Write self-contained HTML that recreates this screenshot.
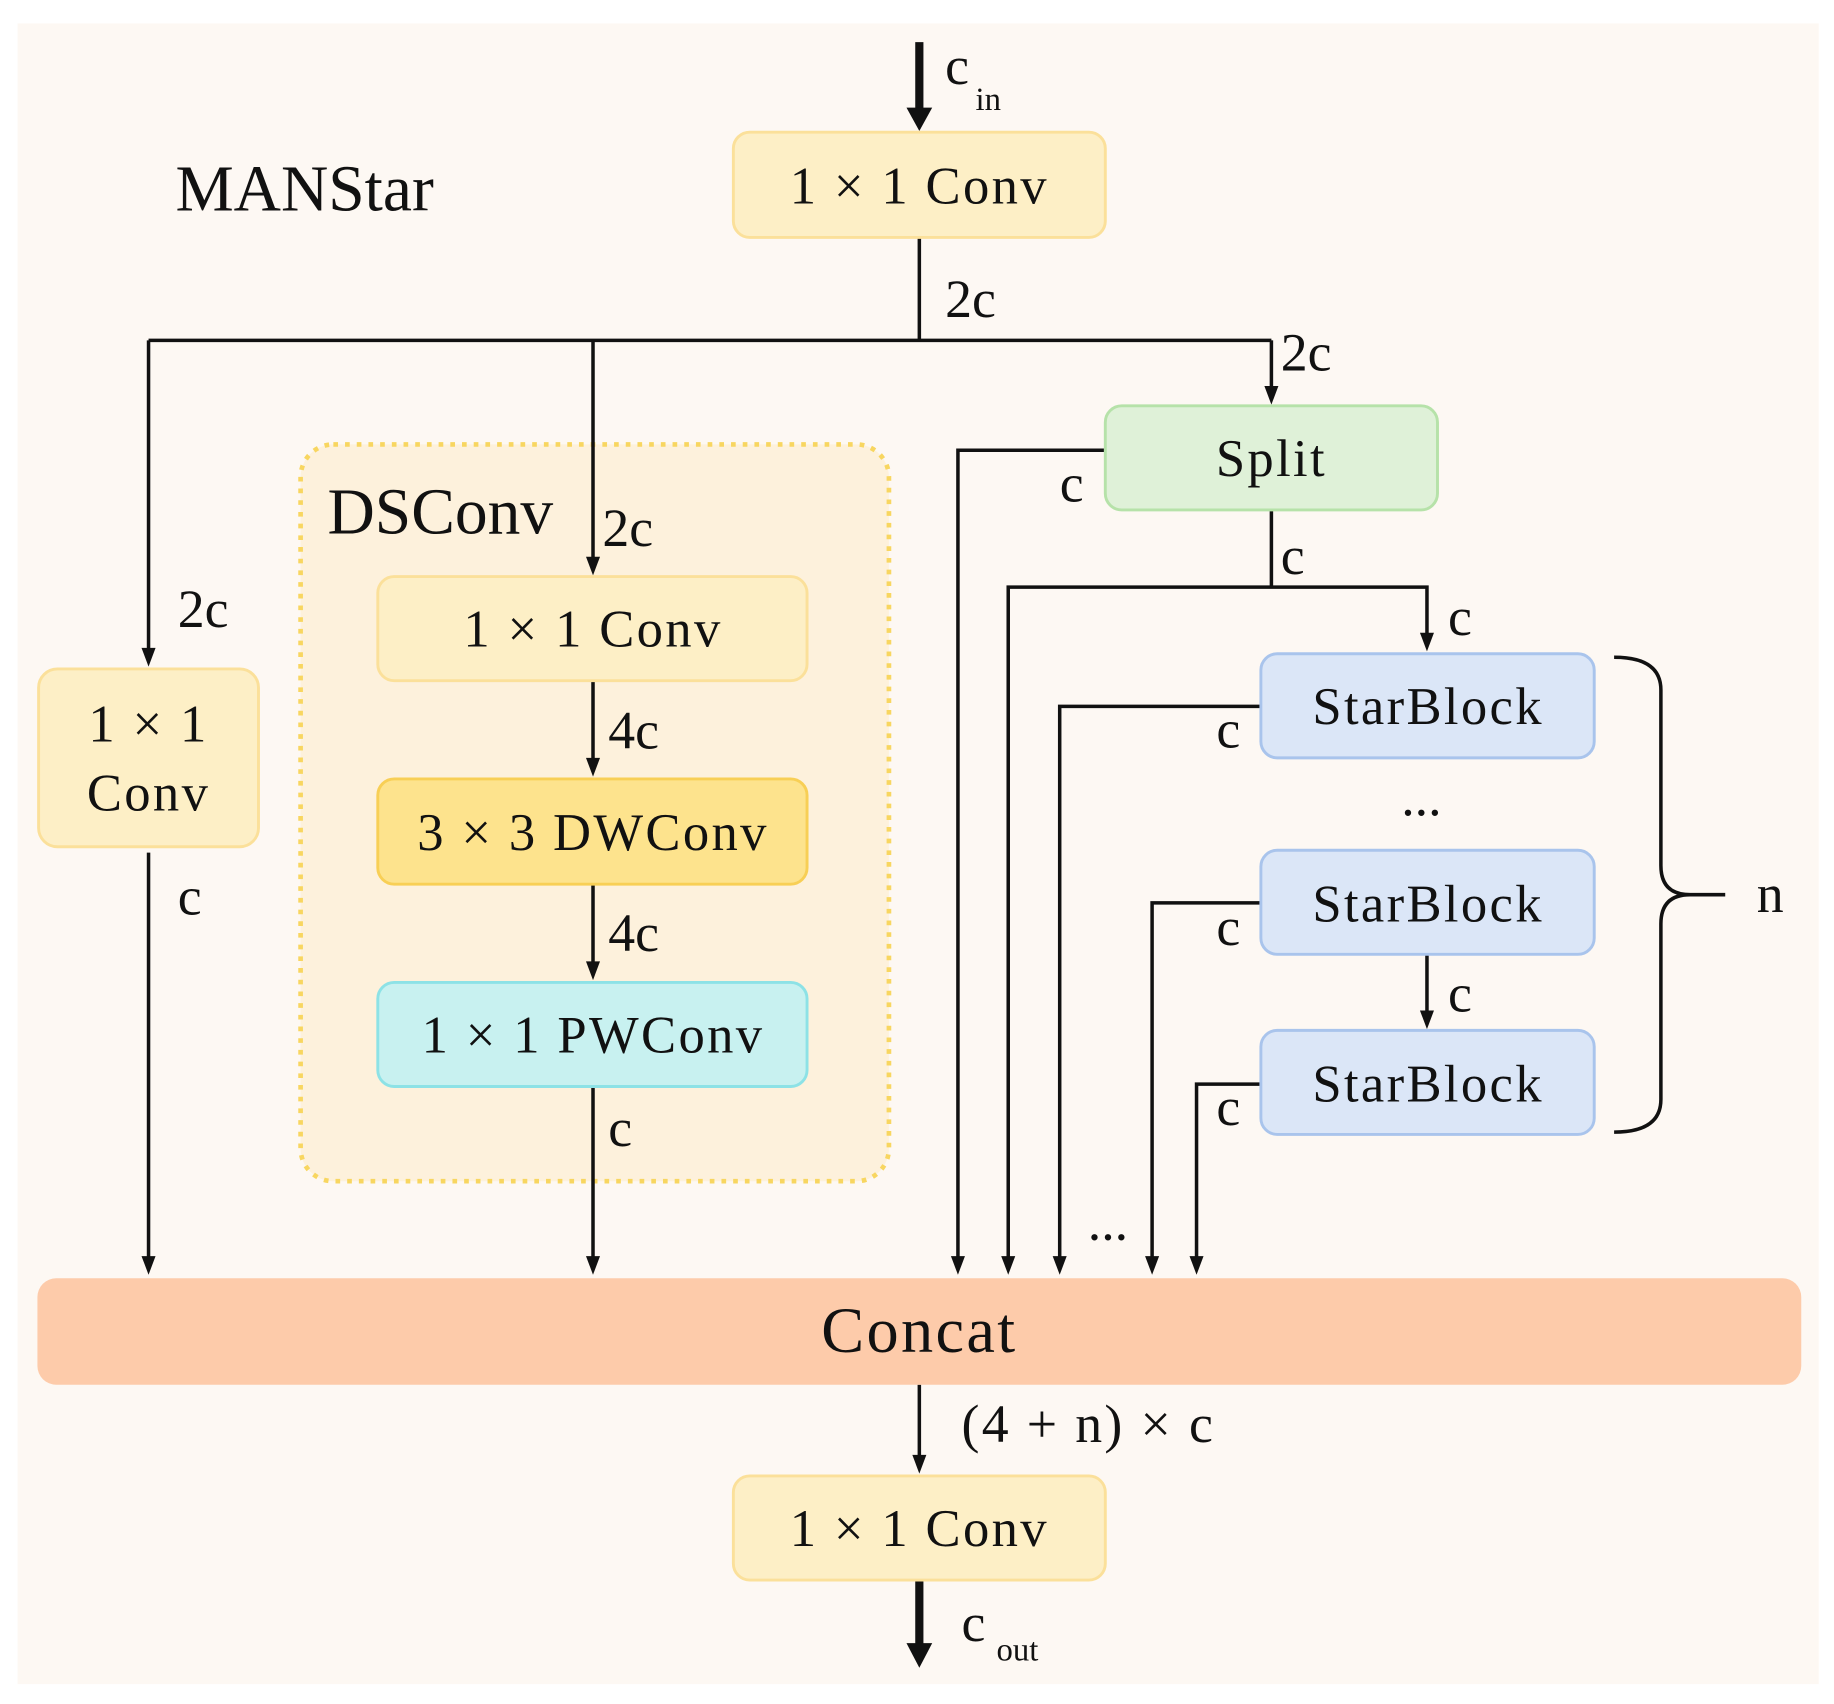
<!DOCTYPE html>
<html><head><meta charset="utf-8"><style>
html,body{margin:0;padding:0;background:#fff;}
svg{display:block;}
text{font-family:"Liberation Serif",serif;fill:#111;}
</style></head><body>
<svg width="1834" height="1704" viewBox="0 0 1568 1457" preserveAspectRatio="none" xmlns="http://www.w3.org/2000/svg">
<rect x="15" y="20" width="1540" height="1420" fill="#fdf8f3"/>
<rect x="257" y="380" width="503" height="630" rx="28" fill="#fdf1dc" stroke="#f8d660" stroke-width="4" stroke-dasharray="4,6"/>
<g stroke="#111" stroke-width="3" fill="none">
<line x1="786" y1="36" x2="786" y2="98" stroke-width="7"/>
<line x1="786" y1="203" x2="786" y2="291"/>
<line x1="127" y1="291" x2="1087" y2="291"/>
<line x1="127" y1="291" x2="127" y2="556"/>
<line x1="507" y1="291" x2="507" y2="478"/>
<line x1="1087" y1="291" x2="1087" y2="332"/>
<line x1="127" y1="729" x2="127" y2="1076"/>
<line x1="507" y1="582" x2="507" y2="650"/>
<line x1="507" y1="756" x2="507" y2="824"/>
<line x1="507" y1="929" x2="507" y2="1076"/>
<polyline points="945,385 819,385 819,1076"/>
<line x1="1087" y1="436" x2="1087" y2="502"/>
<polyline points="862,1076 862,502 1220,502 1220,543"/>
<polyline points="1078,604 906,604 906,1076"/>
<polyline points="1078,772 985,772 985,1076"/>
<line x1="1220" y1="816" x2="1220" y2="866"/>
<polyline points="1078,927 1023,927 1023,1076"/>
<line x1="786" y1="1184" x2="786" y2="1246"/>
<line x1="786" y1="1351" x2="786" y2="1410" stroke-width="7"/>
<path d="M1380,562 Q1420,562 1420,590 L1420,740 Q1420,765 1445,765 L1475,765 M1445,765 Q1420,765 1420,790 L1420,940 Q1420,968 1380,968"/>
</g>
<g fill="#111">
<path d="M775,92 L797,92 L786,112 Z"/>
<path d="M775,1405 L797,1405 L786,1426 Z"/>
<path d="M121,554 L133,554 L127,570 Z"/>
<path d="M501,476 L513,476 L507,492 Z"/>
<path d="M1081,330 L1093,330 L1087,346 Z"/>
<path d="M121,1074 L133,1074 L127,1090 Z"/>
<path d="M501,648 L513,648 L507,664 Z"/>
<path d="M501,822 L513,822 L507,838 Z"/>
<path d="M501,1074 L513,1074 L507,1090 Z"/>
<path d="M813,1074 L825,1074 L819,1090 Z"/>
<path d="M856,1074 L868,1074 L862,1090 Z"/>
<path d="M1214,541 L1226,541 L1220,557 Z"/>
<path d="M900,1074 L912,1074 L906,1090 Z"/>
<path d="M979,1074 L991,1074 L985,1090 Z"/>
<path d="M1214,864 L1226,864 L1220,880 Z"/>
<path d="M1017,1074 L1029,1074 L1023,1090 Z"/>
<path d="M780,1244 L792,1244 L786,1260 Z"/>
</g>
<g stroke-width="2.5">
<rect x="627" y="113" width="318" height="90" rx="14" fill="#fdefc6" stroke="#fbe09a"/>
<rect x="33" y="572" width="188" height="152" rx="16" fill="#fdefc6" stroke="#fbe09a"/>
<rect x="323" y="493" width="367" height="89" rx="14" fill="#fdefc6" stroke="#fbe09a"/>
<rect x="323" y="666" width="367" height="90" rx="14" fill="#fde38d" stroke="#f8cf55"/>
<rect x="323" y="840" width="367" height="89" rx="14" fill="#c8f1f0" stroke="#8de2e6"/>
<rect x="945" y="347" width="284" height="89" rx="14" fill="#dff1d8" stroke="#b6e2a9"/>
<rect x="1078" y="559" width="285" height="89" rx="14" fill="#dbe6f7" stroke="#a9c4ec"/>
<rect x="1078" y="727" width="285" height="89" rx="14" fill="#dbe6f7" stroke="#a9c4ec"/>
<rect x="1078" y="881" width="285" height="89" rx="14" fill="#dbe6f7" stroke="#a9c4ec"/>
<rect x="32" y="1093" width="1508" height="91" rx="16" fill="#fdcbaa" stroke="none"/>
<rect x="627" y="1262" width="318" height="89" rx="14" fill="#fdefc6" stroke="#fbe09a"/>
</g>
<g font-size="45" text-anchor="middle" letter-spacing="2">
<text x="786" y="174">1 × 1 Conv</text>
<text x="127" y="634">1 × 1</text>
<text x="127" y="693">Conv</text>
<text x="507" y="553">1 × 1 Conv</text>
<text x="507" y="727">3 × 3 DWConv</text>
<text x="507" y="900">1 × 1 PWConv</text>
<text x="1087" y="407">Split</text>
<text x="1221" y="619">StarBlock</text>
<text x="1221" y="788">StarBlock</text>
<text x="1221" y="942">StarBlock</text>
<text x="786" y="1156" font-size="55">Concat</text>
<text x="786" y="1322">1 × 1 Conv</text>
</g>
<g font-size="46">
<text x="150" y="180" font-size="56">MANStar</text>
<text x="280" y="456" font-size="56">DSConv</text>
<text x="808" y="72">c</text><text x="834" y="94" font-size="28">in</text>
<text x="808" y="271">2c</text>
<text x="1095" y="317">2c</text>
<text x="515" y="467">2c</text>
<text x="152" y="536">2c</text>
<text x="152" y="782">c</text>
<text x="520" y="640">4c</text>
<text x="520" y="813">4c</text>
<text x="520" y="980">c</text>
<text x="906" y="429">c</text>
<text x="1095" y="491">c</text>
<text x="1238" y="543">c</text>
<text x="1040" y="639">c</text>
<text x="1040" y="808">c</text>
<text x="1238" y="865">c</text>
<text x="1040" y="962">c</text>
<text x="1198" y="697">...</text>
<text x="930" y="1060">...</text>
<text x="1502" y="780">n</text>
<text x="822" y="1233" letter-spacing="2">(4 + n) × c</text>
<text x="822" y="1403">c</text><text x="852" y="1420" font-size="28">out</text>
</g>
</svg>
</body></html>
